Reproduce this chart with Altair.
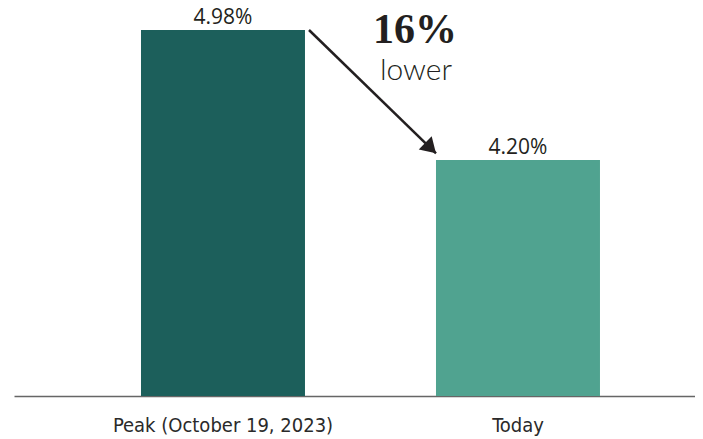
import altair as alt
import pandas as pd

categories = ["Peak (October 19, 2023)", "Today"]
values = [4.98, 4.20]
labels = ["4.98%", "4.20%"]
colors = ["#1c5f5b", "#50a390"]

pct_lower = round((values[0] - values[1]) / values[0] * 100)

df = pd.DataFrame({"cat": categories, "val": values, "label": labels, "color": colors})

y_min, y_max = 2.784, 5.076
yscale = alt.Scale(domain=[y_min, y_max], zero=False, nice=False)
xscale = alt.Scale(domain=categories, paddingInner=0.4441, paddingOuter=0.3763, align=0.572)

x_axis = alt.Axis(
    title=None, ticks=False, domainColor="#666666", domainWidth=1.6,
    labelFont="DejaVu Sans Condensed", labelFontSize=20, labelColor="#2a2a2a",
    labelPadding=19, labelAngle=0, labelLimit=0,
)

bars = alt.Chart(df).mark_bar(clip=True).encode(
    x=alt.X("cat:N", scale=xscale, axis=x_axis, sort=categories),
    y=alt.Y("val:Q", scale=yscale, axis=None),
    y2=alt.datum(y_min),
    color=alt.Color("color:N", scale=None),
)

value_text = alt.Chart(df).mark_text(
    baseline="bottom", dy=-2, font="Open Sans", fontSize=21, color="#231f20"
).encode(
    x=alt.X("cat:N", scale=xscale, sort=categories),
    y=alt.Y("val:Q", scale=yscale),
    text="label:N",
)

arrow_df = pd.DataFrame({
    "x1": [categories[0]], "x2": [categories[1]],
    "y1": [values[0]], "y2": [4.24],
})

arrow_line = alt.Chart(arrow_df).mark_rule(color="#231f20", strokeWidth=2.5, xOffset=4).encode(
    x=alt.X("x1:N", scale=xscale, bandPosition=1),
    x2=alt.X2("x2:N", bandPosition=0),
    y=alt.Y("y1:Q", scale=yscale),
    y2=alt.Y2("y2:Q"),
)

arrow_head = alt.Chart(arrow_df).mark_point(
    shape="M0,0 L-1,-0.62 L-1,0.62 Z", filled=True, opacity=1,
    color="#231f20", size=900, angle=44,
).encode(
    x=alt.X("x2:N", scale=xscale, bandPosition=0),
    y=alt.Y("y2:Q", scale=yscale),
)

ann_df = pd.DataFrame({
    "x": [categories[1], categories[1]],
    "y": [4.905, 4.68],
    "t": [f"{pct_lower}%", "lower"],
    "kind": ["big", "small"],
})

ann_big = alt.Chart(ann_df[ann_df.kind == "big"]).mark_text(
    font="Liberation Serif", fontWeight="bold", fontSize=42, color="#231f20",
    baseline="alphabetic", dx=-21,
).encode(
    x=alt.X("x:N", scale=xscale, bandPosition=0),
    y=alt.Y("y:Q", scale=yscale),
    text="t:N",
)

ann_small = alt.Chart(ann_df[ann_df.kind == "small"]).mark_text(
    font="Lato", fontWeight=300, fontSize=30, color="#231f20",
    baseline="alphabetic", dx=-20,
).encode(
    x=alt.X("x:N", scale=xscale, bandPosition=0),
    y=alt.Y("y:Q", scale=yscale),
    text="t:N",
)

chart = alt.layer(bars, value_text, arrow_line, arrow_head, ann_big, ann_small).properties(
    width=681, height=382,
    autosize=alt.AutoSizeParams(type="none"),
    padding={"left": 6, "top": 6, "right": 0, "bottom": 46},
    background="white",
).configure_view(stroke=None)

chart.save("out.html", embed_options={"renderer": "svg", "actions": False})
